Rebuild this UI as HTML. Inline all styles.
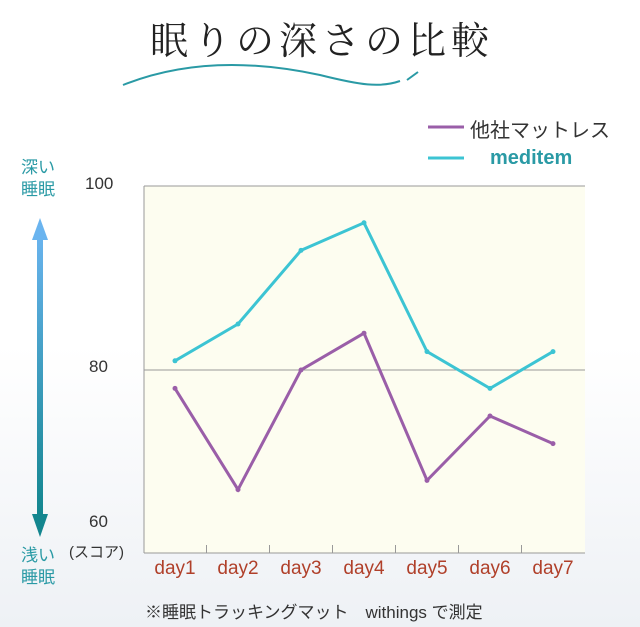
<!DOCTYPE html>
<html><head><meta charset="utf-8"><style>
html,body{margin:0;padding:0}
body{width:640px;height:627px;overflow:hidden;background:linear-gradient(#ffffff 0%,#ffffff 55%,#eef1f5 100%);font-family:"Liberation Sans","Noto Sans CJK JP",sans-serif;position:relative}
.t{position:absolute;white-space:nowrap}
</style></head><body>
<div class="t" style="left:150px;top:10px;font-family:'Liberation Serif','Noto Serif CJK SC',serif;font-size:38px;letter-spacing:5px;color:#222">眠りの深さの比較</div>
<svg width="640" height="627" style="position:absolute;left:0;top:0" id="chart">
<path d="M122 85 C180 60,250 60,320 75 S400 90,400 85" fill="none"/>
<path d="M123 85 C190 58,260 62,320 75 C360 85,380 88,400 81" fill="none" stroke="#2a9aa5" stroke-width="2"/>
<path d="M407 80 L418 72" stroke="#2a9aa5" stroke-width="2"/>
<defs><linearGradient id="ag" x1="0" y1="0" x2="0" y2="1"><stop offset="0" stop-color="#6ab4ef"/><stop offset="1" stop-color="#13868f"/></linearGradient></defs>
<g>
<rect x="37" y="232" width="6" height="282" fill="url(#ag)"/>
<polygon points="40,218 32,240 48,240" fill="#6ab4ef"/>
<polygon points="40,537 32,514 48,514" fill="#13868f"/>
</g>
<rect x="144" y="186" width="441" height="367" fill="#fdfdf0"/>
<line x1="144" y1="186" x2="585" y2="186" stroke="#999"/>
<line x1="144" y1="186" x2="144" y2="553" stroke="#999"/>
<line x1="144" y1="553" x2="585" y2="553" stroke="#999"/>
<line x1="144" y1="370" x2="585" y2="370" stroke="#999"/>
<g id="ticks"></g><g id="lines"></g>
<g>
<line x1="428" y1="127" x2="464" y2="127" stroke="#9a5ea8" stroke-width="3"/>
<line x1="428" y1="158" x2="464" y2="158" stroke="#3cc4d3" stroke-width="3"/>
</g>
</svg>
<div class="t" style="left:470px;top:114px;font-size:20px;color:#333">他社マットレス</div>
<div class="t" style="left:490px;top:147px;font-size:20px;font-weight:bold;color:#2a9aa5">meditem</div>
<div class="t" style="left:21px;top:157px;font-size:17px;line-height:22px;color:#2a9aa5">深い<br>睡眠</div>
<div class="t" style="left:21px;top:545px;font-size:17px;line-height:22px;color:#2a9aa5">浅い<br>睡眠</div>
<div class="t" style="left:85px;top:174px;font-size:17px;color:#333">100</div>
<div class="t" style="left:89px;top:357px;font-size:17px;color:#333">80</div>
<div class="t" style="left:89px;top:512px;font-size:17px;color:#333">60</div>
<div class="t" style="left:69px;top:541px;font-size:15px;color:#333">(スコア)</div>
<div class="t" style="left:145px;top:598px;font-size:17px;color:#333">※睡眠トラッキングマット　withings で測定</div>
<div id="xl"></div>
<script>
const categories=["day1","day2","day3","day4","day5","day6","day7"];
const otherValues=[78,67,80,84,68,75,72];
const meditemValues=[81,85,93,96,82,78,82];
const ns="http://www.w3.org/2000/svg";
const xS=i=>175+i*63;
const yS=v=>370-(v-80)*9.2;
const tk=document.getElementById('ticks');
for(let i=0;i<categories.length-1;i++){const l=document.createElementNS(ns,'line');


const x=(xS(i)+xS(i+1))/2;l.setAttribute('x1',x);l.setAttribute('x2',x);l.setAttribute('y1',545);l.setAttribute('y2',553);l.setAttribute('stroke','#999');tk.appendChild(l);}
const lg=document.getElementById('lines');
function draw(vals,color,name){const p=document.createElementNS(ns,'polyline');


p.setAttribute('points',vals.map((v,i)=>xS(i)+','+yS(v)).join(' '));p.setAttribute('fill','none');p.setAttribute('stroke',color);p.setAttribute('stroke-width','3');lg.appendChild(p);
vals.forEach((v,i)=>{const c=document.createElementNS(ns,'circle');


c.setAttribute('cx',xS(i));c.setAttribute('cy',yS(v));c.setAttribute('r',2.5);c.setAttribute('fill',color);lg.appendChild(c);});}
draw(otherValues,'#9a5ea8','other-mattress-line');
draw(meditemValues,'#3cc4d3','meditem-line');
const xl=document.getElementById('xl');
categories.forEach((c,i)=>{const d=document.createElement('div');


d.className='t';d.textContent=c;d.style.cssText='left:'+(xS(i)-25)+'px;top:558px;width:50px;text-align:center;font-size:19px;color:#b0402a';xl.appendChild(d);});
</script>
</body></html>
